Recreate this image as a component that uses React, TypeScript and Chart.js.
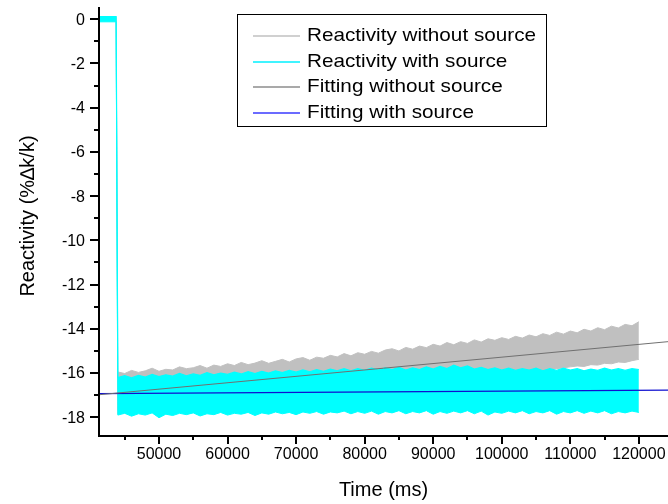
import React, { useEffect, useRef } from 'react';
import { Chart, registerables } from 'chart.js';

Chart.register(...registerables);

// ---- data ----
const TIME = [
  41250, 43750,
  44000, 45000, 46000, 47000, 48000, 49000, 50000, 51000, 52000, 53000,
  54000, 55000, 56000, 57000, 58000, 59000, 60000, 61000, 62000, 63000,
  64000, 65000, 66000, 67000, 68000, 69000, 70000, 71000, 72000, 73000,
  74000, 75000, 76000, 77000, 78000, 79000, 80000, 81000, 82000, 83000,
  84000, 85000, 86000, 87000, 88000, 89000, 90000, 91000, 92000, 93000,
  94000, 95000, 96000, 97000, 98000, 99000, 100000, 101000, 102000, 103000,
  104000, 105000, 106000, 107000, 108000, 109000, 110000, 111000, 112000, 113000,
  114000, 115000, 116000, 117000, 118000, 119000, 120000,
];

// Reactivity without source: upper / lower envelope of the noisy signal
const NOSRC_TOP = [
  0.08, 0.08,
  -15.95, -16.02, -15.88, -15.97, -15.9, -15.78, -15.92, -15.83, -15.86, -15.72,
  -15.8, -15.76, -15.66, -15.78, -15.64, -15.7, -15.58, -15.66, -15.52, -15.62,
  -15.55, -15.44, -15.56, -15.47, -15.38, -15.5, -15.36, -15.3, -15.42, -15.28,
  -15.33, -15.2, -15.27, -15.12, -15.22, -15.08, -15.15, -15.02, -15.1, -14.96,
  -14.9, -15.0, -14.84, -14.92, -14.78, -14.85, -14.7, -14.78, -14.62, -14.72,
  -14.58, -14.66, -14.5, -14.6, -14.45, -14.52, -14.4, -14.48, -14.34, -14.42,
  -14.28, -14.36, -14.22, -14.3, -14.15, -14.24, -14.1, -14.18, -14.02, -14.1,
  -13.95, -14.04, -13.88, -13.96, -13.8, -13.86, -13.68,
];
const NOSRC_BOTTOM = [
  -0.08, -0.08,
  -17.85, -17.8, -17.82, -17.76, -17.78, -17.72, -17.75, -17.7, -17.68, -17.72,
  -17.64, -17.66, -17.6, -17.62, -17.56, -17.58, -17.52, -17.55, -17.48, -17.5,
  -17.44, -17.46, -17.4, -17.42, -17.36, -17.38, -17.32, -17.34, -17.28, -17.3,
  -17.22, -17.25, -17.18, -17.2, -17.12, -17.1, -17.04, -17.0, -16.94, -16.9,
  -16.84, -16.8, -16.74, -16.7, -16.66, -16.6, -16.56, -16.52, -16.46, -16.44,
  -16.38, -16.36, -16.3, -16.26, -16.22, -16.18, -16.14, -16.1, -16.06, -16.02,
  -15.98, -15.94, -15.9, -15.84, -15.8, -15.76, -15.72, -15.68, -15.7, -15.62,
  -15.64, -15.56, -15.58, -15.5, -15.52, -15.44, -15.38,
];

// Reactivity with source: upper / lower envelope
const SRC_TOP = [
  0.12, 0.12,
  -16.2, -16.12, -16.22, -16.1, -16.18, -16.06, -16.16, -16.08, -16.14, -16.02,
  -16.12, -16.04, -16.1, -15.98, -16.08, -16.0, -16.06, -15.96, -16.04, -15.94,
  -16.02, -15.92, -16.0, -15.9, -15.98, -15.88, -15.96, -15.86, -15.94, -15.84,
  -15.92, -15.82, -15.9, -15.8, -15.9, -15.8, -15.88, -15.78, -15.86, -15.76,
  -15.84, -15.74, -15.86, -15.76, -15.84, -15.72, -15.82, -15.7, -15.8, -15.64,
  -15.76, -15.68, -15.82, -15.74, -15.84, -15.76, -15.86, -15.78, -15.88, -15.8,
  -15.86, -15.78, -15.9, -15.8, -15.88, -15.78, -15.86, -15.8, -15.9, -15.82,
  -15.88, -15.78, -15.86, -15.8, -15.88, -15.8, -15.84,
];
const SRC_BOTTOM = [
  -0.12, -0.12,
  -17.9, -17.82, -17.95, -17.84, -17.9, -17.8, -18.02, -17.86, -17.92, -17.82,
  -17.88, -17.8, -17.94, -17.84, -17.88, -17.78, -17.9, -17.82, -17.86, -17.78,
  -17.92, -17.8, -17.86, -17.76, -17.84, -17.78, -17.88, -17.76, -17.82, -17.74,
  -17.86, -17.76, -17.8, -17.72, -17.84, -17.74, -17.82, -17.72, -17.86, -17.74,
  -17.8, -17.7, -17.84, -17.74, -17.8, -17.7, -17.86, -17.74, -17.82, -17.72,
  -17.8, -17.7, -17.84, -17.72, -17.9, -17.76, -17.82, -17.72, -17.8, -17.7,
  -17.84, -17.74, -17.8, -17.7, -17.86, -17.74, -17.8, -17.7, -17.82, -17.72,
  -17.8, -17.7, -17.84, -17.74, -17.8, -17.72, -17.78,
];

// Linear fits
const FIT_TIME = [41250, 124250];
const FIT_WITHOUT = [-16.98, -14.58];
const FIT_WITH = [-16.93, -16.77];

const LEGEND_LABELS = [
  'Reactivity without source',
  'Reactivity with source',
  'Fitting without source',
  'Fitting with source',
];
const LEGEND_COLORS = ['#c0c0c0', '#00f0ff', '#8c8c8c', '#3a3aff'];

const X_MAJOR = [50000, 60000, 70000, 80000, 90000, 100000, 110000, 120000];
const X_MINOR = [45000, 55000, 65000, 75000, 85000, 95000, 105000, 115000];
const Y_MAJOR = [0, -2, -4, -6, -8, -10, -12, -14, -16, -18];
const Y_MINOR = [-1, -3, -5, -7, -9, -11, -13, -15, -17];

const X_TITLE = 'Time (ms)';
const Y_TITLE = 'Reactivity (%\u2206k/k)';

const FONT = '"Liberation Sans", Arial, Helvetica, sans-serif';

const pts = (xs: number[], ys: number[]) => xs.map((x, i) => ({ x, y: ys[i] }));

const originPlugin = {
  id: 'originAxes',
  afterDatasetsDraw(chart: any) {
    const { ctx, chartArea: a, scales } = chart;
    const xs = scales.x;
    const ys = scales.y;
    ctx.save();
    ctx.strokeStyle = '#000';
    ctx.fillStyle = '#000';
    ctx.lineWidth = 2;
    // axis lines
    ctx.beginPath();
    ctx.moveTo(a.left, a.top);
    ctx.lineTo(a.left, a.bottom + 1);
    ctx.lineTo(a.right, a.bottom + 1);
    ctx.stroke();

    // ticks
    const drawX = (v: number, len: number) => {
      const px = Math.round(xs.getPixelForValue(v));
      ctx.beginPath();
      ctx.moveTo(px, a.bottom);
      ctx.lineTo(px, a.bottom + len);
      ctx.stroke();
    };
    X_MAJOR.forEach((v) => drawX(v, 9));
    X_MINOR.forEach((v) => drawX(v, 5));
    const drawY = (v: number, len: number) => {
      const py = Math.round(ys.getPixelForValue(v));
      ctx.beginPath();
      ctx.moveTo(a.left, py);
      ctx.lineTo(a.left - len, py);
      ctx.stroke();
    };
    Y_MAJOR.forEach((v) => drawY(v, 9));
    Y_MINOR.forEach((v) => drawY(v, 5));

    // tick labels
    ctx.font = `16px ${FONT}`;
    ctx.textAlign = 'center';
    ctx.textBaseline = 'top';
    X_MAJOR.forEach((v) => {
      ctx.fillText(String(v), xs.getPixelForValue(v), a.bottom + 12);
    });
    ctx.textAlign = 'right';
    ctx.textBaseline = 'middle';
    Y_MAJOR.forEach((v) => {
      ctx.fillText(String(v), a.left - 14, ys.getPixelForValue(v) + 1);
    });

    // axis titles
    ctx.font = `20px ${FONT}`;
    ctx.textAlign = 'center';
    ctx.textBaseline = 'middle';
    ctx.fillText(X_TITLE, (a.left + a.right) / 2, 490);
    ctx.save();
    ctx.translate(28, 216);
    ctx.rotate(-Math.PI / 2);
    ctx.fillText(Y_TITLE, 0, 0);
    ctx.restore();

    // legend box
    ctx.lineWidth = 1;
    ctx.strokeStyle = '#000';
    ctx.fillStyle = '#fff';
    ctx.fillRect(237.5, 14.5, 309, 112);
    ctx.strokeRect(237.5, 14.5, 309, 112);
    ctx.font = `19px ${FONT}`;
    ctx.textAlign = 'left';
    ctx.textBaseline = 'middle';
    LEGEND_LABELS.forEach((lab, i) => {
      const yy = 36 + i * 25.5;
      ctx.strokeStyle = LEGEND_COLORS[i];
      ctx.lineWidth = 1.5;
      ctx.beginPath();
      ctx.moveTo(253, Math.round(yy));
      ctx.lineTo(300, Math.round(yy));
      ctx.stroke();
      ctx.fillStyle = '#000';
      ctx.save();
      ctx.translate(307, yy);
      ctx.scale(1.09, 1);
      ctx.fillText(lab, 0, 0);
      ctx.restore();
    });
    ctx.restore();
  },
};

export default function App() {
  const ref = useRef<HTMLCanvasElement | null>(null);
  useEffect(() => {
    if (!ref.current) return;
    const chart = new Chart(ref.current, {
      type: 'line',
      data: {
        datasets: [
          {
            label: LEGEND_LABELS[0],
            data: pts(TIME, NOSRC_TOP),
            borderColor: '#c0c0c0',
            backgroundColor: '#c0c0c0',
            borderWidth: 1,
            fill: '+1',
            order: 3,
          },
          {
            label: LEGEND_LABELS[0] + ' (lower)',
            data: pts(TIME, NOSRC_BOTTOM),
            borderColor: '#c0c0c0',
            borderWidth: 1,
            fill: false,
            order: 3,
          },
          {
            label: LEGEND_LABELS[1],
            data: pts(TIME, SRC_TOP),
            borderColor: '#00ffff',
            backgroundColor: '#00ffff',
            borderWidth: 1.2,
            fill: '+1',
            order: 2,
          },
          {
            label: LEGEND_LABELS[1] + ' (lower)',
            data: pts(TIME, SRC_BOTTOM),
            borderColor: '#00ffff',
            borderWidth: 1,
            fill: false,
            order: 2,
          },
          {
            label: LEGEND_LABELS[2],
            data: pts(FIT_TIME, FIT_WITHOUT),
            borderColor: '#707070',
            borderWidth: 1,
            fill: false,
            order: 1,
          },
          {
            label: LEGEND_LABELS[3],
            data: pts(FIT_TIME, FIT_WITH),
            borderColor: '#1010d0',
            borderWidth: 1.2,
            fill: false,
            order: 1,
          },
        ],
      },
      options: {
        animation: false,
        responsive: false,
        maintainAspectRatio: false,
        devicePixelRatio: 1,
        layout: { padding: { left: 99, right: 0, top: 7, bottom: 69 } },
        elements: { point: { radius: 0 }, line: { tension: 0 } },
        plugins: { legend: { display: false }, tooltip: { enabled: false } },
        scales: {
          x: { type: 'linear', min: 41250, max: 124250, display: false },
          y: { type: 'linear', min: -18.8, max: 0.55, display: false },
        },
      },
      plugins: [originPlugin],
    });
    return () => chart.destroy();
  }, []);
  return (
    <div style={{ position: 'absolute', left: 0, top: 0, width: 668, height: 504, background: '#fff' }}>
      <canvas ref={ref} width={668} height={504} style={{ width: 668, height: 504 }} />
    </div>
  );
}
